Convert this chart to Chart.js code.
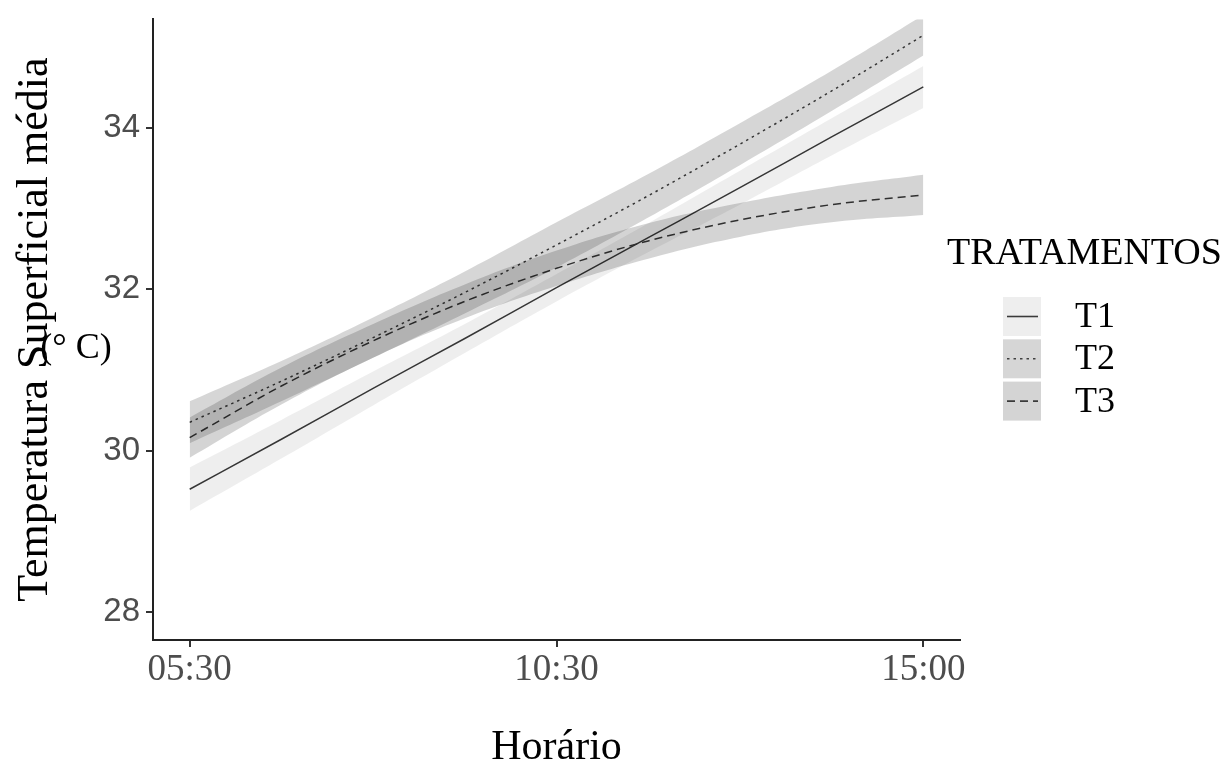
<!DOCTYPE html>
<html>
<head>
<meta charset="utf-8">
<script src="https://cdn.jsdelivr.net/npm/chart.js@4.4.0/dist/chart.umd.min.js"></script>
<style>
  html, body { margin: 0; padding: 0; background: #fff; }
  #wrap { width: 1225px; height: 765px; }
</style>
</head>
<body>
<div id="wrap"><canvas id="tempChart" width="1225" height="765"></canvas></div>
<script>
// horário: 0 = 05:30, 1 = 10:30, 2 = 15:00
const horarios = ["05:30", "10:30", "15:00"];
const tempo = [0, 0.25, 0.5, 0.75, 1, 1.25, 1.5, 1.75, 2];
const yTicks = [28, 30, 32, 34];

const tratamentos = ["T1", "T2", "T3"];

// curvas ajustadas e meia largura do intervalo de confiança
const t1Media = [29.52, 30.14, 30.77, 31.39, 32.02, 32.64, 33.26, 33.89, 34.51];
const t1Margem = [0.27, 0.24, 0.21, 0.18, 0.17, 0.18, 0.21, 0.23, 0.26];
const t2Media = [30.35, 30.86, 31.40, 31.96, 32.55, 33.16, 33.80, 34.46, 35.15];
const t2Margem = [0.26, 0.25, 0.25, 0.26, 0.28, 0.27, 0.26, 0.25, 0.25];
const t3Media = [30.16, 30.80, 31.36, 31.85, 32.26, 32.60, 32.86, 33.05, 33.17];
const t3Margem = [0.25, 0.23, 0.21, 0.21, 0.22, 0.22, 0.21, 0.22, 0.25];

const SERIF = '"Liberation Serif", "Times New Roman", serif';
const SANS = '"Liberation Sans", Arial, sans-serif';

const estilos = [
  { fill: "rgba(0,0,0,0.065)", line: "#3a3a3a", dash: [] },
  { fill: "rgba(0,0,0,0.16)", line: "#404040", dash: [2.5, 4] },
  { fill: "rgba(0,0,0,0.17)", line: "#3a3a3a", dash: [8, 5] },
];

function pontos(media, margem, sinal) {
  return tempo.map((x, i) => ({ x, y: media[i] + sinal * margem[i] }));
}

function faixa(media, margem, est) {
  return [
    { data: pontos(media, margem, -1), borderWidth: 0, pointRadius: 0, fill: false, tension: 0.4 },
    { data: pontos(media, margem, 1), borderWidth: 0, pointRadius: 0, fill: "-1", backgroundColor: est.fill, tension: 0.4 },
  ];
}

function curva(media, est) {
  return {
    data: pontos(media, media.map(() => 0), 0),
    borderColor: est.line,
    borderWidth: 1.5,
    borderDash: est.dash,
    pointRadius: 0,
    fill: false,
    cubicInterpolationMode: "monotone",
  };
}

const series = [[t1Media, t1Margem], [t2Media, t2Margem], [t3Media, t3Margem]];
const datasets = [];
series.forEach(([m, e], i) => datasets.push(...faixa(m, e, estilos[i])));
series.forEach(([m], i) => datasets.push(curva(m, estilos[i])));

// legenda e rótulo "(° C)" desenhados à mão
const legendaTratamentos = {
  id: "legendaTratamentos",
  afterDraw(chart) {
    const ctx = chart.ctx;
    ctx.save();
    ctx.fillStyle = "#000";
    ctx.textBaseline = "middle";
    ctx.textAlign = "left";
    ctx.font = "38px " + SERIF;
    ctx.fillText("TRATAMENTOS", 947, 254);

    tratamentos.forEach((nome, i) => {
      const top = 297 + i * 42.3;
      const h = 39;
      const cy = top + h / 2;
      ctx.fillStyle = estilos[i].fill;
      ctx.fillRect(1003, top, 38, h);
      ctx.strokeStyle = estilos[i].line;
      ctx.lineWidth = 1.6;
      ctx.setLineDash(estilos[i].dash);
      ctx.beginPath();
      ctx.moveTo(1007, cy);
      ctx.lineTo(1038, cy);
      ctx.stroke();
      ctx.setLineDash([]);
      ctx.fillStyle = "#000";
      ctx.font = "36px " + SERIF;
      ctx.fillText(nome, 1075, cy + 1);
    });

    ctx.textAlign = "center";
    ctx.font = "36px " + SERIF;
    ctx.fillText("(° C)", 76, 349);
    ctx.restore();
  },
};

new Chart(document.getElementById("tempChart"), {
  type: "line",
  data: { datasets },
  options: {
    responsive: false,
    animation: false,
    layout: { padding: { top: 17, right: 265, bottom: 0, left: 0 } },
    plugins: { legend: { display: false }, tooltip: { enabled: false } },
    scales: {
      x: {
        type: "linear",
        min: -0.1,
        max: 2.1,
        afterBuildTicks: (s) => { s.ticks = [0, 1, 2].map((v) => ({ value: v })); },
        afterFit: (s) => { s.height = 125; },
        grid: { drawOnChartArea: false, drawTicks: true, tickLength: 7, color: "#333", lineWidth: 2 },
        border: { display: true, color: "#222", width: 2 },
        ticks: {
          callback: (v) => horarios[v],
          color: "#4d4d4d",
          font: { family: SERIF, size: 37 },
          padding: 1,
          maxRotation: 0,
        },
        title: {
          display: true,
          text: "Horário",
          color: "#000",
          font: { family: SERIF, size: 42, lineHeight: 0.8 },
          padding: { top: 0, bottom: 0 },
        },
      },
      y: {
        min: 27.65,
        max: 35.35,
        afterBuildTicks: (s) => { s.ticks = yTicks.map((v) => ({ value: v })); },
        afterFit: (s) => { s.width = 153; },
        grid: { drawOnChartArea: false, drawTicks: true, tickLength: 7, color: "#333", lineWidth: 2 },
        border: { display: true, color: "#222", width: 2 },
        ticks: {
          color: "#4d4d4d",
          font: { family: SANS, size: 33, lineHeight: 0.8 },
          padding: 6,
        },
        title: {
          display: true,
          text: "Temperatura Superficial média",
          color: "#000",
          font: { family: SERIF, size: 44 },
          padding: { top: 9, bottom: 0 },
        },
      },
    },
  },
  plugins: [legendaTratamentos],
});
</script>
</body>
</html>
